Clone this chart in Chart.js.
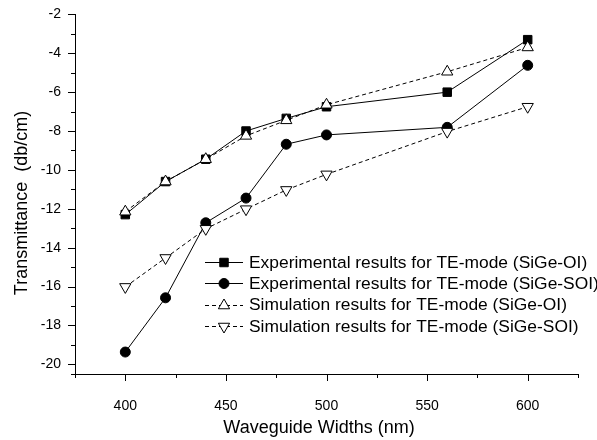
<!DOCTYPE html>
<html><head><meta charset="utf-8">
<script src="https://cdn.jsdelivr.net/npm/chart.js@4/dist/chart.umd.min.js"></script>
<style>html,body{margin:0;padding:0;background:#fff}#wrap{width:597px;height:440px;position:relative}</style>
</head><body><div id="wrap"><canvas id="c" width="597" height="440"></canvas></div>
<script>
// ---- data ----
const widths = [400, 420, 440, 460, 480, 500, 560, 600];
const expOI  = [-12.3, -10.6, -9.45, -8.0, -7.35, -6.75, -6.0, -3.3];
const expSOI = [-19.37, -16.58, -12.72, -11.45, -8.68, -8.2, -7.81, -4.62];
const simOI  = [-12.15, -10.6, -9.45, -8.25, -7.45, -6.65, -4.95, -3.7];
const simSOI = [-16.02, -14.53, -13.03, -12.02, -11.03, -10.23, -8.03, -6.75];
const seriesLabels = [
  'Experimental results for TE-mode (SiGe-OI)',
  'Experimental results for TE-mode (SiGe-SOI)',
  'Simulation results for TE-mode (SiGe-OI)',
  'Simulation results for TE-mode (SiGe-SOI)'
];
const xTickValues = [400, 450, 500, 550, 600];
const yTickValues = [-2, -4, -6, -8, -10, -12, -14, -16, -18, -20];
const xTitle = 'Waveguide Widths (nm)';
const yTitle = 'Transmittance  (db/cm)';

const FONT = "'Liberation Sans', Arial, sans-serif";
const pts = arr => arr.map((v, i) => ({x: widths[i], y: v}));

const datasets = [
  {label: seriesLabels[0], data: pts(expOI), borderColor:'#000', backgroundColor:'#000', borderWidth:1,
   pointStyle:'rect', pointRadius:6, pointBackgroundColor:'#000', pointBorderColor:'#000', pointBorderWidth:1, order:4},
  {label: seriesLabels[1], data: pts(expSOI), borderColor:'#000', backgroundColor:'#000', borderWidth:1,
   pointStyle:'circle', pointRadius:5, pointBackgroundColor:'#000', pointBorderColor:'#000', pointBorderWidth:1, order:3},
  {label: seriesLabels[2], data: pts(simOI), borderColor:'#000', backgroundColor:'#fff', borderWidth:1, borderDash:[4,3],
   pointStyle:'triangle', pointRadius:6.5, pointBackgroundColor:'#fff', pointBorderColor:'#000', pointBorderWidth:1, order:2},
  {label: seriesLabels[3], data: pts(simSOI), borderColor:'#000', backgroundColor:'#fff', borderWidth:1, borderDash:[4,3],
   pointStyle:'triangle', pointRotation:180, pointRadius:6.5, pointBackgroundColor:'#fff', pointBorderColor:'#000', pointBorderWidth:1, order:1}
];

const extras = {
  id: 'extras',
  afterDraw(chart) {
    const ctx = chart.ctx, xs = chart.scales.x, ys = chart.scales.y;
    const ca = chart.chartArea;
    ctx.save();
    ctx.strokeStyle = '#000'; ctx.lineWidth = 1; ctx.setLineDash([]);
    // x tick marks
    for (let v = 375; v <= 625; v += 25) {
      const px = Math.round(xs.getPixelForValue(v)) + 0.5;
      const len = (v % 50 === 0) ? 7 : 4;
      ctx.beginPath(); ctx.moveTo(px, ca.bottom); ctx.lineTo(px, ca.bottom + len); ctx.stroke();
    }
    // y tick marks
    for (let v = -20; v <= -2; v += 1) {
      const py = Math.round(ys.getPixelForValue(v)) + 0.5;
      const len = (v % 2 === 0) ? 7 : 4;
      ctx.beginPath(); ctx.moveTo(ca.left, py); ctx.lineTo(ca.left - len, py); ctx.stroke();
    }
    {
      const py = Math.round(ys.getPixelForValue(ys.min)) + 0.5;
      ctx.beginPath(); ctx.moveTo(ca.left, py); ctx.lineTo(ca.left - 4, py); ctx.stroke();
    }
    // axis titles
    ctx.fillStyle = '#000';
    ctx.font = '18px ' + FONT;
    ctx.textAlign = 'center'; ctx.textBaseline = 'middle';
    ctx.fillText(xTitle, 319, 428);
    ctx.save();
    ctx.translate(22, 203);
    ctx.rotate(-Math.PI / 2);
    ctx.fillText(yTitle, 0, 0);
    ctx.restore();
    // legend
    ctx.font = '17.4px ' + FONT;
    ctx.textAlign = 'left';
    chart.data.datasets.forEach((ds, i) => {
      const y = 262 + i * 21.3;
      ctx.save();
      ctx.strokeStyle = '#000'; ctx.lineWidth = 1;
      ctx.setLineDash(ds.borderDash || []);
      ctx.beginPath(); ctx.moveTo(205, Math.round(y) + 0.5); ctx.lineTo(243, Math.round(y) + 0.5); ctx.stroke();
      ctx.setLineDash([]);
      ctx.fillStyle = ds.pointBackgroundColor; ctx.strokeStyle = ds.pointBorderColor;
      ctx.lineWidth = ds.pointBorderWidth;
      Chart.helpers.drawPoint(ctx, {pointStyle: ds.pointStyle, radius: ds.pointRadius, rotation: ds.pointRotation || 0, borderWidth: 1}, 224, Math.round(y) + 0.5);
      ctx.restore();
      ctx.fillStyle = '#000';
      ctx.fillText(ds.label, 249, y + 1);
    });
    ctx.restore();
  }
};

new Chart(document.getElementById('c'), {
  type: 'line',
  data: {datasets},
  options: {
    responsive: false,
    animation: false,
    devicePixelRatio: 1,
    layout: {padding: {top: 14, right: 19, left: 0, bottom: 0}},
    plugins: {legend: {display: false}, tooltip: {enabled: false}},
    elements: {line: {tension: 0}},
    scales: {
      x: {
        type: 'linear', position: 'bottom', min: 375, max: 625,
        afterBuildTicks: s => { s.ticks = xTickValues.map(v => ({value: v})); },
        afterFit: s => { s.height = 66; },
        grid: {display: false},
        border: {display: true, color: '#000', width: 1},
        ticks: {color: '#000', font: {family: FONT, size: 14}, padding: 16, maxRotation: 0}
      },
      y: {
        type: 'linear', min: -20.5, max: -2,
        afterBuildTicks: s => { s.ticks = yTickValues.map(v => ({value: v})); },
        afterFit: s => { s.width = 75; },
        grid: {display: false},
        border: {display: true, color: '#000', width: 1},
        ticks: {color: '#000', font: {family: FONT, size: 14}, padding: 6}
      }
    }
  },
  plugins: [extras]
});
</script>
</body></html>
